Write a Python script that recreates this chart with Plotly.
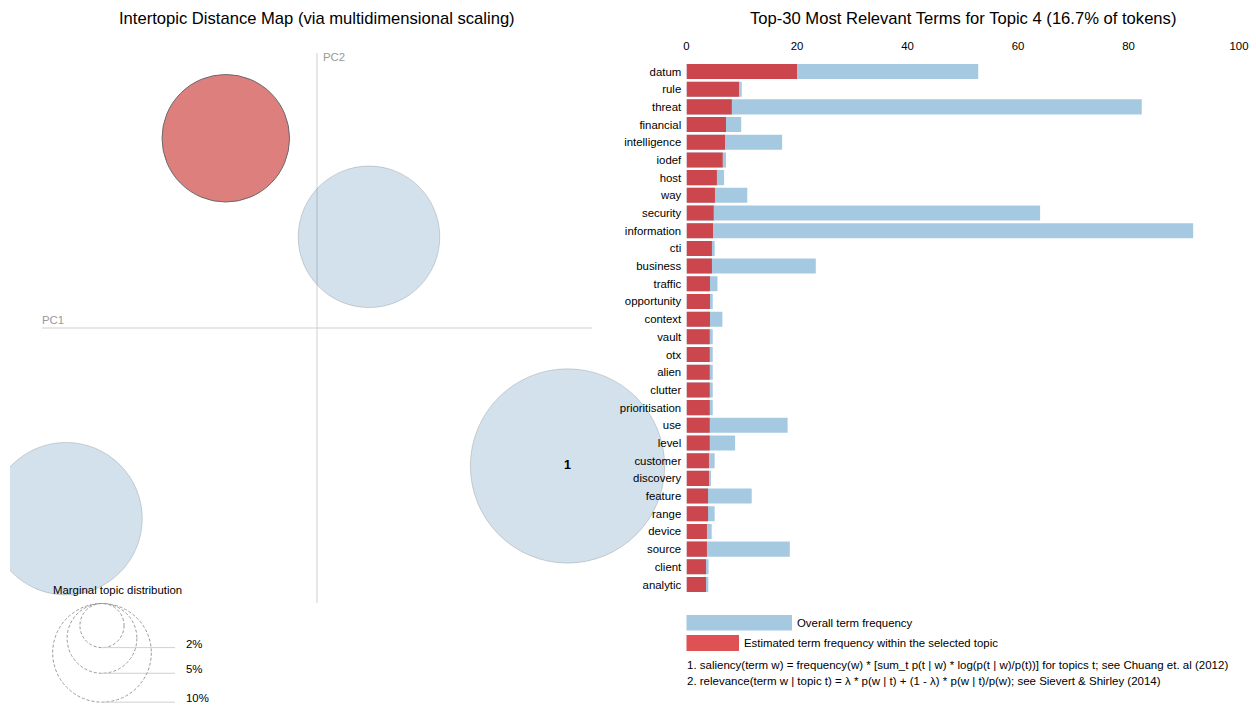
import math
import plotly.graph_objects as go

W, H = 1256, 706

# ---------------- data ----------------
topic_ids = [1, 2, 3, 4]
topic_labels = ["1", "", "", ""]
topic_pc1 = [0.2733, -0.2738, 0.0567, -0.0995]
topic_pc2 = [-0.1505, -0.2080, 0.0995, 0.2070]
topic_freq = [38.8, 23.9, 20.6, 16.7]          # % of tokens
selected_topic = 4

legend_pct = [2, 5, 10]
legend_text = ["2%", "5%", "10%"]

terms = ["datum", "rule", "threat", "financial", "intelligence", "iodef", "host", "way",
         "security", "information", "cti", "business", "traffic", "opportunity", "context",
         "vault", "otx", "alien", "clutter", "prioritisation", "use", "level", "customer",
         "discovery", "feature", "range", "device", "source", "client", "analytic"]
overall_freq = [52.8, 10.0, 82.4, 9.9, 17.3, 7.15, 6.8, 11.0, 64.0, 91.7,
                5.1, 23.4, 5.6, 4.75, 6.5, 4.75, 4.75, 4.75, 4.75, 4.75,
                18.3, 8.8, 5.1, 4.43, 11.8, 5.1, 4.56, 18.7, 4.0, 3.95]
topic_term_freq = [20.0, 9.5, 8.2, 7.15, 6.97, 6.55, 5.5, 5.15, 4.92, 4.8,
                   4.6, 4.6, 4.25, 4.25, 4.25, 4.2, 4.2, 4.2, 4.2, 4.2,
                   4.2, 4.2, 4.07, 4.07, 3.9, 3.9, 3.7, 3.7, 3.53, 3.53]
x_ticks = [0, 20, 40, 60, 80, 100]

# ---------------- layout helpers ----------------
FONT = "Liberation Sans, Arial, sans-serif"
SMALL = 11.4


def pxx(p):
    return p / W


def pxy(p):
    return 1 - p / H


S = 275 / 0.3          # px per MDS unit
CX, CY = 317, 328      # pixel position of the origin
K = 156                # bubble radius (px) for 100 %
BOX = dict(x0=10, x1=720, y0=40, y1=706)
xr = [(BOX["x0"] - CX) / S, (BOX["x1"] - CX) / S]
yr = [(CY - BOX["y1"]) / S, (CY - BOX["y0"]) / S]

BLUE_C = "rgba(30,105,155,0.2)"
RED_C = "#dd7f7d"

fig = go.Figure()

# topic bubbles
colors = [RED_C if t == selected_topic else BLUE_C for t in topic_ids]
edge = ["#6a6a6a" if t == selected_topic else "rgba(0,0,0,0.15)" for t in topic_ids]
fig.add_trace(go.Scatter(
    x=topic_pc1, y=topic_pc2, mode="markers+text", text=topic_labels,
    textposition="middle center",
    textfont=dict(family=FONT, size=12.5, color="#000", weight="bold"),
    marker=dict(size=topic_freq, sizemode="area", sizeref=100 / (2 * K ** 2),
                opacity=1, color=colors, line=dict(color=edge, width=1)),
    xaxis="x", yaxis="y", hoverinfo="skip", showlegend=False))

# bars
fig.add_trace(go.Bar(
    y=terms, x=overall_freq, orientation="h",
    marker=dict(color="rgba(31,119,180,0.4)", line=dict(width=0)),
    xaxis="x2", yaxis="y2", name="Overall term frequency", showlegend=False))
fig.add_trace(go.Bar(
    y=terms, x=topic_term_freq, orientation="h",
    marker=dict(color="rgba(214,39,40,0.8)", line=dict(width=0)),
    xaxis="x2", yaxis="y2", name="Estimated term frequency within the selected topic",
    showlegend=False))

shapes = []
# PC axes
shapes.append(dict(type="line", xref="x", yref="y", x0=-0.3, x1=0.3, y0=0, y1=0,
                   line=dict(color="#cfcfcf", width=1), layer="below"))
shapes.append(dict(type="line", xref="x", yref="y", x0=0, x1=0, y0=-0.3, y1=0.3,
                   line=dict(color="#cfcfcf", width=1), layer="below"))

# marginal distribution legend (dashed circles)
LCX, LTOP = 102, 603.5
annotations = []
for p, lab in zip(legend_pct, legend_text):
    r = K * math.sqrt(p / 100)
    cy = LTOP + r
    shapes.append(dict(type="circle", xref="paper", yref="paper",
                       x0=pxx(LCX - r), x1=pxx(LCX + r), y0=pxy(cy + r), y1=pxy(cy - r),
                       line=dict(color="#999", width=1, dash="3px,2px")))
    shapes.append(dict(type="line", xref="paper", yref="paper",
                       x0=pxx(LCX), x1=pxx(175), y0=pxy(cy + r), y1=pxy(cy + r),
                       line=dict(color="#d0d0d0", width=1)))
    annotations.append(dict(x=pxx(184), y=pxy(cy + r - 4), xref="paper", yref="paper",
                            text=lab, showarrow=False, xanchor="left", yanchor="middle",
                            font=dict(family=FONT, size=SMALL, color="#000")))

# bar legend rectangles
shapes.append(dict(type="rect", xref="paper", yref="paper", x0=pxx(686.5), x1=pxx(792),
                   y0=pxy(630.5), y1=pxy(615), fillcolor="rgba(31,119,180,0.4)",
                   line=dict(width=0)))
shapes.append(dict(type="rect", xref="paper", yref="paper", x0=pxx(686.5), x1=pxx(739),
                   y0=pxy(651), y1=pxy(635), fillcolor="rgba(214,39,40,0.8)",
                   line=dict(width=0)))


def txt(x, y, s, size=SMALL, color="#000", anchor="left", **kw):
    annotations.append(dict(x=pxx(x), y=pxy(y), xref="paper", yref="paper", text=s,
                            showarrow=False, xanchor=anchor, yanchor="middle",
                            font=dict(family=FONT, size=size, color=color), **kw))


txt(317, 18, "Intertopic Distance Map (via multidimensional scaling)", size=16.6, anchor="center")
txt(963, 18, "Top-30 Most Relevant Terms for Topic 4 (16.7% of tokens)", size=16.6, anchor="center")
txt(40, 320, "PC1", color="#999")
txt(321, 57, "PC2", color="#999")
txt(51, 590, "Marginal topic distribution")
txt(795, 622.5, "Overall term frequency")
txt(742, 643, "Estimated term frequency within the selected topic")
txt(685, 665, "1. saliency(term w) = frequency(w) * [sum_t p(t | w) * log(p(t | w)/p(t))] for topics t; see Chuang et. al (2012)", size=11.5)
txt(685, 681, "2. relevance(term w | topic t) = \u03bb * p(w | t) + (1 - \u03bb) * p(w | t)/p(w); see Sievert &amp; Shirley (2014)", size=11.5)

fig.update_layout(
    width=W, height=H, margin=dict(l=0, r=0, t=0, b=0, autoexpand=False), autosize=False,
    paper_bgcolor="white", plot_bgcolor="rgba(0,0,0,0)",
    font=dict(family=FONT, size=SMALL, color="#000"),
    barmode="overlay", bargap=0.15, showlegend=False,
    xaxis=dict(domain=[pxx(BOX["x0"]), pxx(BOX["x1"])], range=xr, visible=False,
               fixedrange=True, automargin=False),
    yaxis=dict(domain=[pxy(BOX["y1"]), pxy(BOX["y0"])], range=yr, visible=False,
               fixedrange=True, automargin=False),
    xaxis2=dict(domain=[pxx(686.5), pxx(1239)], range=[0, 100], side="top", anchor="y2",
                tickvals=x_ticks, ticks="outside", ticklen=7, tickcolor="rgba(0,0,0,0)",
                showgrid=False, zeroline=False, showline=False, automargin=False,
                tickfont=dict(family=FONT, size=SMALL, color="#000")),
    yaxis2=dict(domain=[pxy(593.35), pxy(62.66)], anchor="x2", autorange="reversed",
                type="category", ticks="outside", ticklen=2, tickcolor="rgba(0,0,0,0)",
                showgrid=False, zeroline=False, showline=False, automargin=False,
                tickfont=dict(family=FONT, size=SMALL, color="#000")),
    shapes=shapes, annotations=annotations,
)

fig.write_html("out.html")
